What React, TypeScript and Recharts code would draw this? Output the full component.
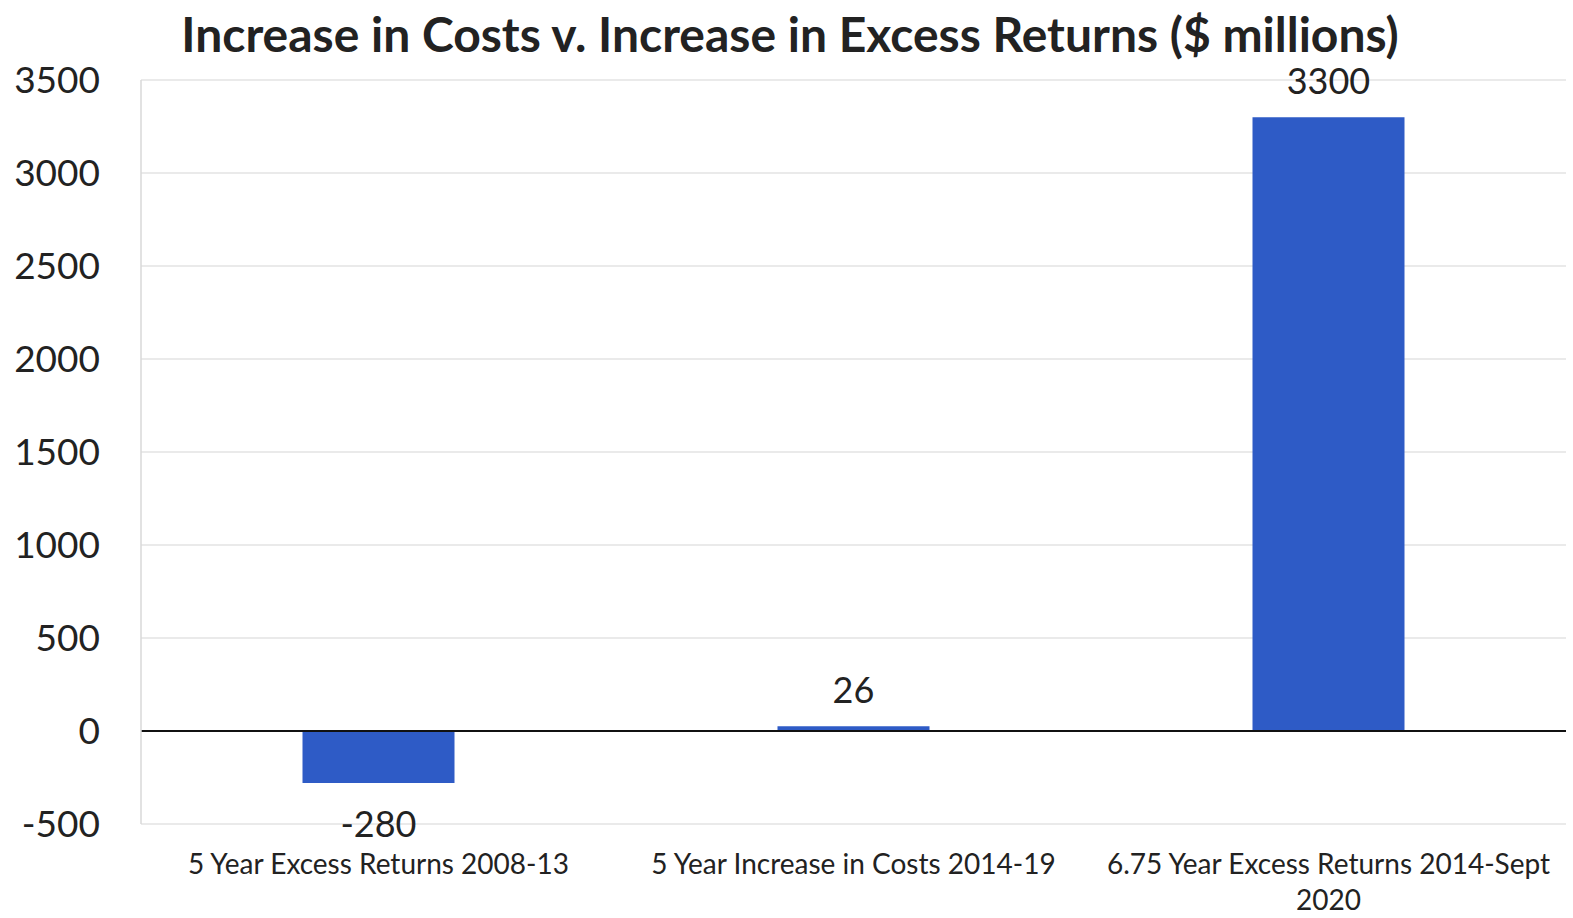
import React from 'react';
import { BarChart, Bar, XAxis, YAxis, CartesianGrid, ReferenceLine, LabelList } from 'recharts';

const categories = [
  '5 Year Excess Returns 2008-13',
  '5 Year Increase in Costs 2014-19',
  '6.75 Year Excess Returns 2014-Sept 2020',
];
const values = [-280, 26, 3300];
const yTicks = [-500, 0, 500, 1000, 1500, 2000, 2500, 3000, 3500];
const title = 'Increase in Costs v. Increase in Excess Returns ($ millions)';

const data = categories.map((c, i) => ({ name: c, value: values[i] }));

const FONT = 'Lato, "Open Sans", sans-serif';
const CAT_FONT = 28;

function wrapWords(s: string, maxWidth: number, fontSize: number): string[] {
  const words = s.split(' ');
  const lines: string[] = [];
  let cur = '';
  const est = (t: string) => t.length * fontSize * 0.49;
  for (const w of words) {
    const next = cur ? cur + ' ' + w : w;
    if (cur && est(next) > maxWidth) {
      lines.push(cur);
      cur = w;
    } else {
      cur = next;
    }
  }
  if (cur) lines.push(cur);
  return lines;
}

const CategoryTick = (props: any) => {
  const { x, y, payload } = props;
  const lines = wrapWords(String(payload.value), 490, CAT_FONT);
  return (
    <text x={x} y={y} textAnchor="middle" fontSize={CAT_FONT} fill="#222" fontFamily={FONT}>
      {lines.map((l, i) => (
        <tspan key={i} x={x} dy={i === 0 ? '0.72em' : 36}>
          {l}
        </tspan>
      ))}
    </text>
  );
};

const ValueLabel = (props: any) => {
  const { x, y, width, height, value } = props;
  const top = Math.min(y, y + height);
  const bottom = Math.max(y, y + height);
  const cx = x + width / 2;
  if (value < 0) {
    return (
      <text x={cx} y={bottom + 25} textAnchor="middle" dominantBaseline="hanging" fontSize={36} fill="#222" fontFamily={FONT}>
        {value}
      </text>
    );
  }
  return (
    <text x={cx} y={top - 23} textAnchor="middle" fontSize={36} fill="#222" fontFamily={FONT}>
      {value}
    </text>
  );
};

export default function App() {
  return (
    <div style={{ position: 'absolute', left: 0, top: 0, width: 1573, height: 918, background: '#fff' }}>
      <div
        style={{
          position: 'absolute',
          left: 0,
          top: 6,
          width: 1580,
          textAlign: 'center',
          fontFamily: FONT,
          fontWeight: 700,
          fontSize: 48,
          color: '#222',
          lineHeight: '56px',
        }}
      >
        {title}
      </div>
      <BarChart
        width={1573}
        height={918}
        data={data}
        margin={{ top: 80, right: 7, bottom: 16, left: 0 }}
        barCategoryGap="34%"
      >
        <CartesianGrid vertical={false} stroke="#e3e3e3" strokeWidth={1.5} />
        <XAxis
          dataKey="name"
          axisLine={false}
          tickLine={false}
          tickSize={0}
          tick={<CategoryTick />}
          tickMargin={30}
          height={78}
          interval={0}
        />
        <YAxis
          width={141}
          domain={[-500, 3500]}
          ticks={yTicks}
          axisLine={{ stroke: '#d9d9d9', strokeWidth: 1.5 }}
          tickLine={false}
          tickSize={0}
          tickMargin={41}
          tick={{ fontSize: 37, fill: '#222', fontFamily: FONT }}
          interval={0}
        />
        <ReferenceLine y={0} stroke="#111" strokeWidth={2} />
        <Bar dataKey="value" fill="#2E5BC6" isAnimationActive={false}>
          <LabelList dataKey="value" content={<ValueLabel />} />
        </Bar>
      </BarChart>
    </div>
  );
}
